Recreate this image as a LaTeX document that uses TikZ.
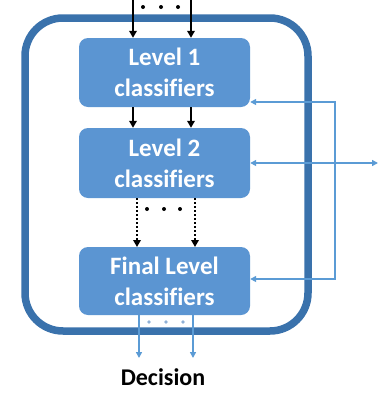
\documentclass[tikz,border=0pt]{standalone}
\usepackage{fontspec}
\setmainfont{Carlito}[Ligatures=NoCommon]
\usetikzlibrary{arrows.meta}
\definecolor{boxblue}{HTML}{5B95D2}
\definecolor{rimblue}{HTML}{3A72AC}
\definecolor{lineblue}{HTML}{5B9BD5}
\definecolor{dotgrey}{HTML}{8FB0D6}

\begin{document}
\begin{tikzpicture}[x=1pt,y=-1pt,
  level/.style={fill=boxblue, rounded corners=9pt, minimum width=171pt,
    text=white, font=\fontsize{25}{31}\selectfont\bfseries, align=center, inner sep=0pt},
  blk/.style={black, line width=2.6pt, -{Triangle[length=7pt,width=7.5pt]}},
  dotblk/.style={blk, dash pattern=on 2pt off 2pt},
  blu/.style={lineblue, line width=2.2pt, -{Triangle[length=6pt,width=6pt]}},
  fb/.style={lineblue, line width=2.2pt, {Triangle[length=6pt,width=6pt]}-{Triangle[length=6pt,width=6pt]}}]
\useasboundingbox (0,0) rectangle (380,394);
\draw[rimblue, line width=7.5pt, rounded corners=38pt] (25,18) rectangle (308,331);
\node[level, minimum height=69pt] (lvlone) at (164.5,72.5) {Level 1\\classifiers};
\node[level, minimum height=70pt] (lvltwo) at (164.5,163) {Level 2\\classifiers};
\node[level, minimum height=68pt] (lvlfinal) at (164.5,281) {Final Level\\classifiers};
\node[font=\fontsize{24}{28}\selectfont\bfseries] (decision) at (163,377) {Decision};
\coordinate (inl) at (133,0);
\coordinate (inr) at (191,0);
\coordinate (outl) at (139,358);
\coordinate (outr) at (193,358);
\coordinate (fbtop) at (335,102);
\coordinate (fbbot) at (335,279);
\coordinate (fbend) at (378,163);
\draw[blk] (inl) -- (inl |- lvlone.north);
\draw[blk] (inr) -- (inr |- lvlone.north);
\draw[blk] (inl |- lvlone.south) -- (inl |- lvltwo.north);
\draw[blk] (inr |- lvlone.south) -- (inr |- lvltwo.north);
\draw[dotblk] (137,198) -- (137,247);
\draw[dotblk] (195,198) -- (195,247);
\draw[blu] (outl |- lvlfinal.south) -- (outl);
\draw[blu] (outr |- lvlfinal.south) -- (outr);
\draw[fb] (lvlone.east |- fbtop) -- (fbtop) -- (fbbot) -- (lvlfinal.east |- fbbot);
\draw[fb] (lvltwo.east) -- (fbend);
\foreach \x in {143,161,178} \fill[black] (\x,7) circle (2pt);
\foreach \x in {147,164,180} \fill[black] (\x,209) circle (2pt);
\foreach \x in {149,166,183} \fill[dotgrey] (\x,322) circle (1.8pt);
\end{tikzpicture}
\end{document}
